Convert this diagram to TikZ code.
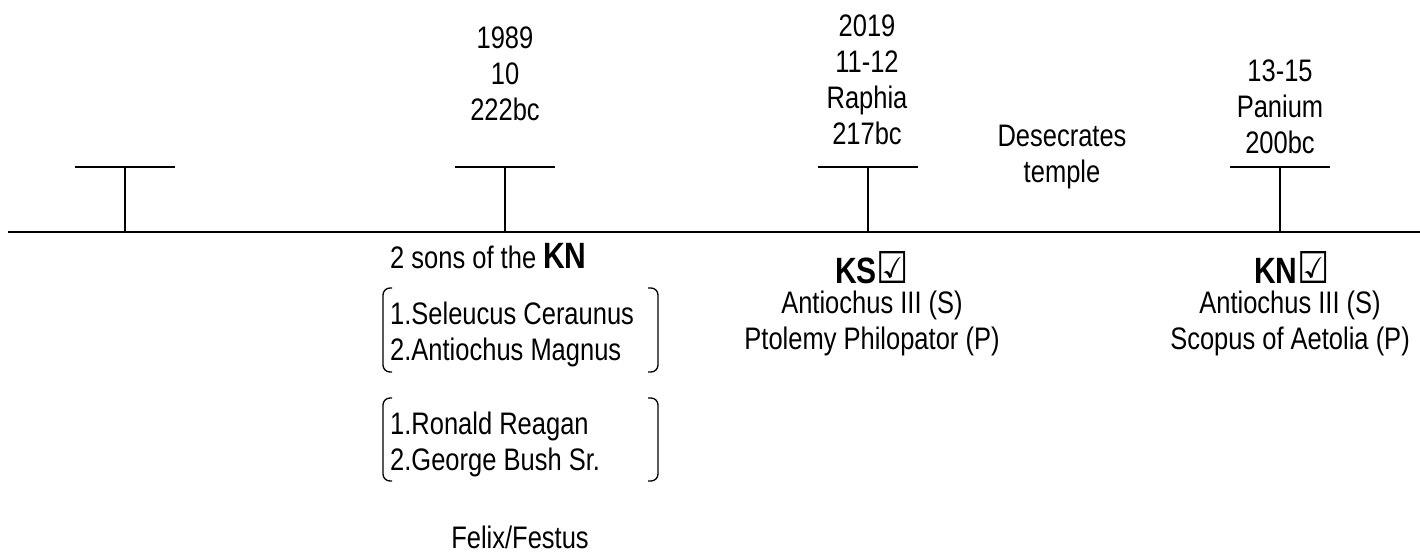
\documentclass[tikz,border=0pt]{standalone}
\usepackage{fontspec}
\setmainfont{Liberation Sans}
\newfontfamily\symfont{DejaVu Sans}
\usetikzlibrary{positioning}
\tikzset{
	axis/.style={line width=2pt},
	tickmark/.style={line width=1.3pt},
	brace/.style={line width=1.3pt, rounded corners=7pt},
	note/.style={font=\fontsize{25.5}{29.5}\selectfont, align=center, inner sep=0pt, yscale=1.22, transform shape},
	leftnote/.style={note, align=left},
	head/.style={font=\fontsize{30}{34}\selectfont\bfseries, inner sep=0pt, yscale=1.22, transform shape}
}
\newcommand{\chk}{{\symfont\fontsize{36}{38}\selectfont\bfseries ☑}}
\newcommand{\bigb}[1]{{\fontsize{30}{30}\selectfont\bfseries #1}}

\begin{document}
\begin{tikzpicture}[x=1pt, y=-1pt]
	\useasboundingbox (0,0) rectangle (1420,554);
	% timeline
	\coordinate (start) at (8,232);
	\coordinate (end) at (1420,232);
	\draw[axis] (start) -- (end);
	\foreach \x/\n in {125/a, 505/b, 868/c, 1280/d} {
		\coordinate (t\n) at (\x,232);
		\coordinate (top\n) at (\x,167);
		\draw[tickmark] (t\n) -- (top\n);
		\draw[tickmark] ([xshift=-50pt]top\n) -- ([xshift=50pt]top\n);
	}
	% above the line
	\node[note, anchor=north] (y1989) at (505,27) {1989\\10\\222bc};
	\node[note, anchor=north] (y2019) at (867,15) {2019\\11-12\\Raphia\\217bc};
	\node[note, anchor=north] (temple) at (1062,125) {Desecrates\\temple};
	\node[note, anchor=north] (panium) at (1280,60) {13-15\\Panium\\200bc};
	% below the line
	\node[leftnote, anchor=base west] (sons) at (390,268) {2 sons of the \bigb{KN}};
	\node[leftnote, anchor=north west] (seleucids) at (390,302) {1.Seleucus Ceraunus\\2.Antiochus Magnus};
	\node[leftnote, anchor=north west] (modern) at (390,412) {1.Ronald Reagan\\2.George Bush Sr.};
	\node[note, anchor=north] (felix) at (520,526) {Felix/Festus};
	\draw[brace] (392,288) -- (383,288) -- (383,372) -- (392,372);
	\draw[brace] (648,288) -- (658,288) -- (658,372) -- (648,372);
	\draw[brace] (392,398) -- (383,398) -- (383,481) -- (392,481);
	\draw[brace] (648,398) -- (658,398) -- (658,481) -- (648,481);
	\node[head, anchor=base] (ks) at (872,283) {KS\chk};
	\node[note, anchor=north] (raphia) at (872,291) {Antiochus III (S)\\Ptolemy Philopator (P)};
	\node[head, anchor=base] (kn) at (1292,283) {KN\chk};
	\node[note, anchor=north] (scopus) at (1290,291) {Antiochus III (S)\\Scopus of Aetolia (P)};
\end{tikzpicture}
\end{document}
